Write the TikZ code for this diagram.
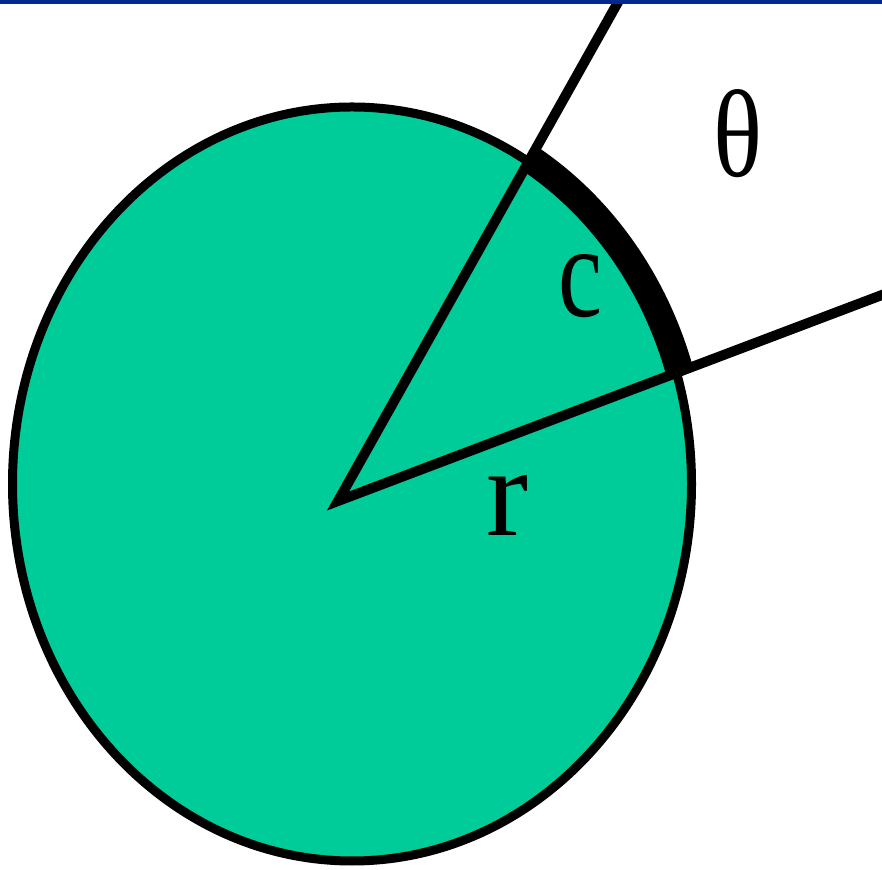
\documentclass[tikz,border=0pt]{standalone}
\usepackage{fontspec}
\setmainfont{Liberation Serif}
\usepackage{graphicx}
\definecolor{discfill}{RGB}{0,204,153}
\definecolor{barblue}{RGB}{0,40,142}
\begin{document}
\begin{tikzpicture}[x=1pt,y=1pt,
  outline/.style={line width=9pt, draw=black},
  radius line/.style={line width=10pt, line join=miter},
  sector arc/.style={line width=28pt, line cap=butt},
  lbl/.style={inner sep=0pt, outer sep=0pt, text=black}]
\useasboundingbox (0,0) rectangle (882,869);
\coordinate (C) at (352,385);
\coordinate (V) at (338,368);
\coordinate (E1) at (625.4,880);
\coordinate (E2) at (892,577.8);
% disc
\filldraw[fill=discfill, outline] (C) ellipse [x radius=339.5pt, y radius=377pt];
% thick arc c
\draw[sector arc] (C) ++(58.72:343pt and 380.5pt)
  arc[start angle=58.72, end angle=17.11, x radius=343pt, y radius=380.5pt];
% radii
\draw[radius line] (E1) -- (V) -- (E2);
% labels
\node[lbl] (theta) at (737.5,735.5) {\resizebox{49pt}{87pt}{θ}};
\node[lbl] (c) at (580,583) {\resizebox{44pt}{62pt}{c}};
\node[lbl] (r) at (508,363) {\resizebox{42pt}{60pt}{r}};
% top bar
\fill[barblue] (0,864.5) rectangle (882,869);
\end{tikzpicture}
\end{document}
